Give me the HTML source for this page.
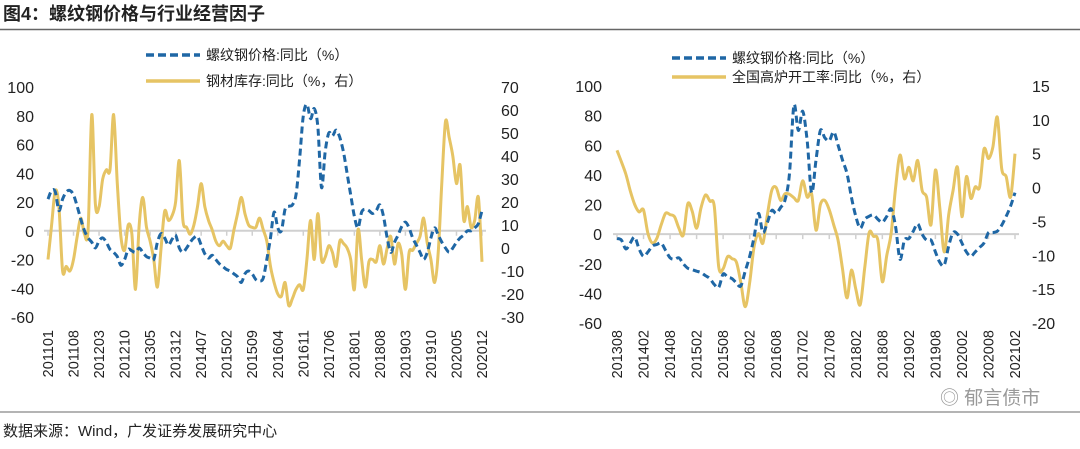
<!DOCTYPE html>
<html><head><meta charset="utf-8">
<style>
html,body{margin:0;padding:0;background:#fff;}
body{width:1080px;height:444px;overflow:hidden;position:relative;font-family:"Liberation Sans","Noto Sans CJK SC",sans-serif;}
svg text{font-family:"Liberation Sans","Noto Sans CJK SC",sans-serif;}
</style></head>
<body>
<svg id="chart" width="1080" height="444" viewBox="0 0 1080 444">
<text x="3" y="20" font-size="18" font-weight="bold" fill="#222">图4：螺纹钢价格与行业经营因子</text>
<line x1="0" y1="29.5" x2="1080" y2="29.5" stroke="#666" stroke-width="1.5"/>
<line x1="0" y1="412" x2="1080" y2="412" stroke="#888" stroke-width="1.2"/>
<text x="3" y="436" font-size="15" fill="#222">数据来源：Wind，广发证券发展研究中心</text>
<text x="940" y="404" font-size="19" fill="#999">◎ 郁言债市</text>
<g id="left"></g>
<g id="right"></g>
</svg>
<script>
// ---- Left chart data (201101-202012 monthly) ----
const leftTicks = ["201101","201108","201203","201210","201305","201312","201407","201502","201509","201604","201611","201706","201801","201808","201903","201910","202005","202012"];
const leftPrice = [22,28,27,14,22,27,28,25,17,8,0,-5,
-8,-12,-7,-5,-8,-13,-15,-18,-24,-20,-13,-14,
-15,-12,-15,-18,-19,-20,-8,-2,-5,-10,-6,-3,
-12,-15,-12,-8,-5,-4,-10,-16,-19,-17,-20,-23,
-25,-27,-28,-30,-32,-36,-30,-28,-30,-34,-35,-33,
-20,-5,13,2,0,15,17,18,25,50,80,88,
78,85,72,30,55,68,66,70,65,55,40,25,
10,2,13,15,14,12,14,18,10,-5,-15,-8,
-3,3,6,2,-5,-10,-15,-20,-15,-5,2,-3,
-8,-12,-15,-12,-8,-5,-3,0,0,2,5,14];
const leftInventory = [-5,10,25,18,-10,-8,-10,-5,5,13,6,8,
58,19,18,30,34,34,58,28,5,-1,10,6,
-18,10,22,9,3,-5,-17,0,16,12,14,20,
38,12,9,6,10,18,28,18,12,8,3,1,
3,1,0,8,15,22,15,10,9,9,13,8,
3,-8,-15,-20,-21,-15,-25,-22,-18,-16,-18,-5,
12,-5,15,-5,-4,1,-2,-8,3,2,0,-5,
-18,8,-5,-17,-6,-5,-6,1,-7,0,5,-7,
2,-3,-18,-2,-1,2,5,13,2,-5,-15,-2,
29,55,48,40,28,36,12,18,9,12,22,-6];
const leftYTicks = [100,80,60,40,20,0,-20,-40,-60];
const leftY2Ticks = [70,60,50,40,30,20,10,0,-10,-20,-30];

// ---- Right chart data (201308-202102 monthly) ----
const rightTicks = ["201308","201402","201408","201502","201508","201602","201608","201702","201708","201802","201808","201902","201908","202002","202008","202102"];
const rightPrice = [-3,-4,-10,-6,-2,-10,-15,-12,-8,-7,-6,-11,-16,-17,-16,-20,-23,-24,-25,-26,-28,-30,-34,-36,-27,-29,-30,-33,-35,-25,-15,-2,14,1,8,16,14,18,23,41,87,70,83,63,28,50,70,65,63,69,60,50,41,25,12,4,10,12,13,10,8,12,17,5,-17,-4,-3,2,7,0,-4,-4,-12,-19,-21,-8,1,0,-6,-12,-15,-12,-9,-6,1,1,2,6,12,19,28];
const rightBlast = [5.5,3.8,2,-0.5,-2.5,-3.6,-3.3,-6.8,-8.2,-7.5,-5.5,-3.8,-4,-4.3,-6,-7,-2.4,-3.5,-6,-3,-1.1,-2,-2.8,-11.7,-12,-10.2,-10.5,-11,-14,-17.6,-14,-8.7,-6.8,-8.2,-4,-0.4,0,-1.9,-0.9,-1,-1.5,-1.9,1,-1.4,-0.9,-6.3,-2.5,-1.9,-3.3,-5.5,-7.8,-12,-16.3,-12.2,-15,-17.3,-12,-6.7,-7.2,-7.8,-13.9,-10,-6.7,0,4.8,1.3,3,1,4,-0.4,-1.4,-5.5,2.6,-3,-9.5,-4,-0.4,3,-4.3,1.6,-1.6,0.1,0.1,5.7,4.3,6,10.4,2.8,1.6,-1.4,5];
const rightYTicks = [100,80,60,40,20,0,-20,-40,-60];
const rightY2Ticks = [15,10,5,0,-5,-10,-15,-20];

const NS = "http://www.w3.org/2000/svg";
function mk(parent, tag, attrs){
  const e = document.createElementNS(NS, tag);
  for (const k in attrs) e.setAttribute(k, attrs[k]);
  parent.appendChild(e); return e;
}
function smoothPath(pts){
  let d = 'M'+pts[0][0].toFixed(1)+','+pts[0][1].toFixed(1);
  for (let i=0;i<pts.length-1;i++){
    const p0=pts[i-1]||pts[i], p1=pts[i], p2=pts[i+1], p3=pts[i+2]||p2;
    const t=0.16;
    const c1=[p1[0]+(p2[0]-p0[0])*t, p1[1]+(p2[1]-p0[1])*t];
    const c2=[p2[0]-(p3[0]-p1[0])*t, p2[1]-(p3[1]-p1[1])*t];
    d+=' C'+c1[0].toFixed(1)+','+c1[1].toFixed(1)+' '+c2[0].toFixed(1)+','+c2[1].toFixed(1)+' '+p2[0].toFixed(1)+','+p2[1].toFixed(1);
  }
  return d;
}
function drawChart(g, cfg){
  const n = cfg.a.length;
  const xs = i => cfg.x0 + i*(cfg.x1-cfg.x0)/(n-1);
  const yL = v => cfg.yTop + (cfg.lMax - v)*(cfg.yBot-cfg.yTop)/(cfg.lMax-cfg.lMin);
  const yR = v => cfg.yTop + (cfg.rMax - v)*(cfg.yBot-cfg.yTop)/(cfg.rMax-cfg.rMin);
  const zl = mk(g,'line',{x1:cfg.x0-4,x2:cfg.x1+4,y1:yL(0),y2:yL(0),stroke:'#d0d0d0','stroke-width':2});
  
  
  cfg.ticks.forEach((t,k)=>{
    const x = xs(k*cfg.step);
    const tk = mk(g,'line',{x1:x,x2:x,y1:yL(0),y2:yL(0)+5,stroke:'#d0d0d0','stroke-width':1.5});
    
    
    const tx = mk(g,'text',{x:0,y:0,'font-size':14.5,fill:'#222','text-anchor':'end',transform:`translate(${x+5},330) rotate(-90)`});
    tx.textContent = t;
    
    
  });
  cfg.lTicks.forEach(v=>{
    const tx = mk(g,'text',{x:cfg.lLabX,y:yL(v)+6,'font-size':16,fill:'#222','text-anchor':'end'});
    tx.textContent = v;
    
    
  });
  cfg.rTicks.forEach(v=>{
    const tx = mk(g,'text',{x:cfg.rLabX,y:yR(v)+6,'font-size':16,fill:'#222','text-anchor':'start'});
    tx.textContent = v;
    
    
  });
  const pb = mk(g,'path',{d:smoothPath(cfg.b.map((v,i)=>[xs(i),yR(v)])),fill:'none',stroke:'#e6c464','stroke-width':3,'stroke-linejoin':'round'});
  
  
  const pa = mk(g,'path',{d:smoothPath(cfg.a.map((v,i)=>[xs(i),yL(v)])),fill:'none',stroke:'#1f67a5','stroke-width':3,'stroke-dasharray':'7,4','stroke-linejoin':'round'});
  
  
  const l1 = mk(g,'line',{x1:cfg.legX,x2:cfg.legX+54,y1:cfg.legY,y2:cfg.legY,stroke:'#1f67a5','stroke-width':3.5,'stroke-dasharray':'8,4'});
  
  
  const t1 = mk(g,'text',{x:cfg.legX+60,y:cfg.legY+5,'font-size':14,fill:'#222'});
  t1.textContent = cfg.leg1;
  
  
  const l2 = mk(g,'line',{x1:cfg.legX,x2:cfg.legX+54,y1:cfg.legY+cfg.legGap,y2:cfg.legY+cfg.legGap,stroke:'#e6c464','stroke-width':3.5});
  
  
  const t2 = mk(g,'text',{x:cfg.legX+60,y:cfg.legY+cfg.legGap+5,'font-size':14,fill:'#222'});
  t2.textContent = cfg.leg2;
  
  
}
drawChart(document.getElementById('left'),{
  a:leftPrice,b:leftInventory,ticks:leftTicks,step:7,x0:48,x1:482,
  yTop:87,yBot:317,lMax:100,lMin:-60,rMax:70,rMin:-30,
  lTicks:leftYTicks,rTicks:leftY2Ticks,lLabX:34,rLabX:501,
  legX:146,legY:55,legGap:26,leg1:"螺纹钢价格:同比（%）",leg2:"钢材库存:同比（%，右）"
});
drawChart(document.getElementById('right'),{
  a:rightPrice,b:rightBlast,ticks:rightTicks,step:6,x0:617,x1:1015,
  yTop:86,yBot:323,lMax:100,lMin:-60,rMax:15,rMin:-20,
  lTicks:rightYTicks,rTicks:rightY2Ticks,lLabX:602,rLabX:1032,
  legX:672,legY:58,legGap:19,leg1:"螺纹钢价格:同比（%）",leg2:"全国高炉开工率:同比（%，右）"
});
</script>
</body></html>
